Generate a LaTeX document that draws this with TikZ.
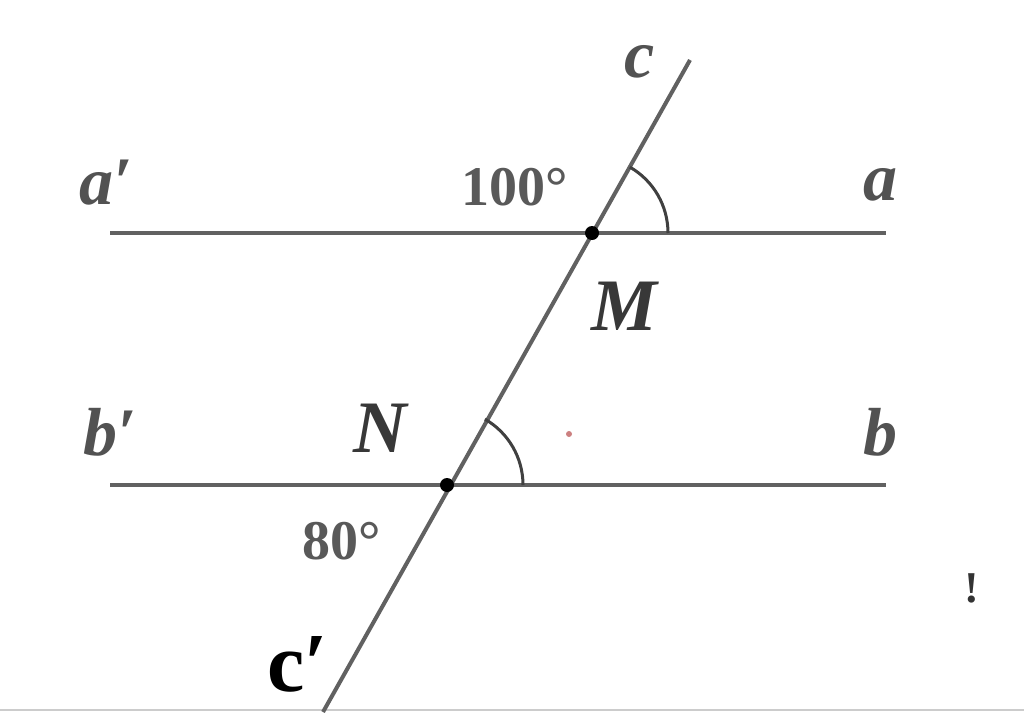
\documentclass[tikz,border=0pt]{standalone}
\usepackage{fontspec}
\setmainfont{Liberation Serif}
\begin{document}
\begin{tikzpicture}[x=1pt,y=-1pt,
  ln/.style={draw=black!62, line width=4.5pt},
  arcst/.style={draw=black!75, line width=3pt},
  lbl/.style={text=black!68, font=\fontsize{68}{68}\selectfont\bfseries\itshape, inner sep=0pt},
  ptlbl/.style={text=black!78, font=\fontsize{74}{74}\selectfont\bfseries\itshape, inner sep=0pt},
  deg/.style={text=black!65, font=\fontsize{56}{56}\selectfont\bfseries, inner sep=0pt},
  dotst/.style={circle, fill=black, inner sep=0pt, minimum size=14pt}]
\useasboundingbox (0,0) rectangle (1024,712);
\fill[white] (0,0) rectangle (1024,712);
% frame line at bottom
\coordinate (fbl) at (0,710);
\coordinate (fbr) at (1024,710);
\draw[black!20, line width=2pt] (fbl) -- (fbr);
% points
\coordinate (M) at (592,233);
\coordinate (N) at (447,485);
\coordinate (aL) at (110,233);
\coordinate (aR) at (886,233);
\coordinate (bL) at (110,485);
\coordinate (bR) at (886,485);
\coordinate (cT) at (690,60);
\coordinate (cB) at (323,712);
% lines
\draw[ln] (aL) -- (aR);
\draw[ln] (bL) -- (bR);
\draw[ln, line width=4pt] (cT) -- (cB);
% angle arcs
\draw[arcst] ([shift={(0:76)}]M) arc[start angle=0, end angle=-60.1, radius=76];
\draw[arcst] ([shift={(0:76)}]N) arc[start angle=0, end angle=-60.1, radius=76];
% points
\node[dotst] (Mdot) at (M) {};
\node[dotst] (Ndot) at (N) {};
% labels
\node[lbl] (la1) at (106,183) {a′};
\node[lbl] (la) at (880,185) {a};
\node[lbl] (lb1) at (110,432) {b′};
\node[lbl] (lb) at (880,432) {b};
\node[lbl] (lc) at (640,62) {c};
\node[deg] (d100) at (515,187) {100°};
\node[deg] (d80) at (342,541) {80°};
\node[ptlbl] (lM) at (624,306) {M};
\node[ptlbl] (lN) at (380,428) {N};
\node[text=black, font=\fontsize{84}{84}\selectfont\bfseries, inner sep=0pt] (lc1) at (298,664) {c′};
\node[circle, fill=black!40!red!50, inner sep=0pt, minimum size=6pt] (rdot) at (569,434) {};
\node[text=black!80, font=\fontsize{44}{44}\selectfont\bfseries, inner sep=0pt] (excl) at (972,588) {!};
\end{tikzpicture}
\end{document}
